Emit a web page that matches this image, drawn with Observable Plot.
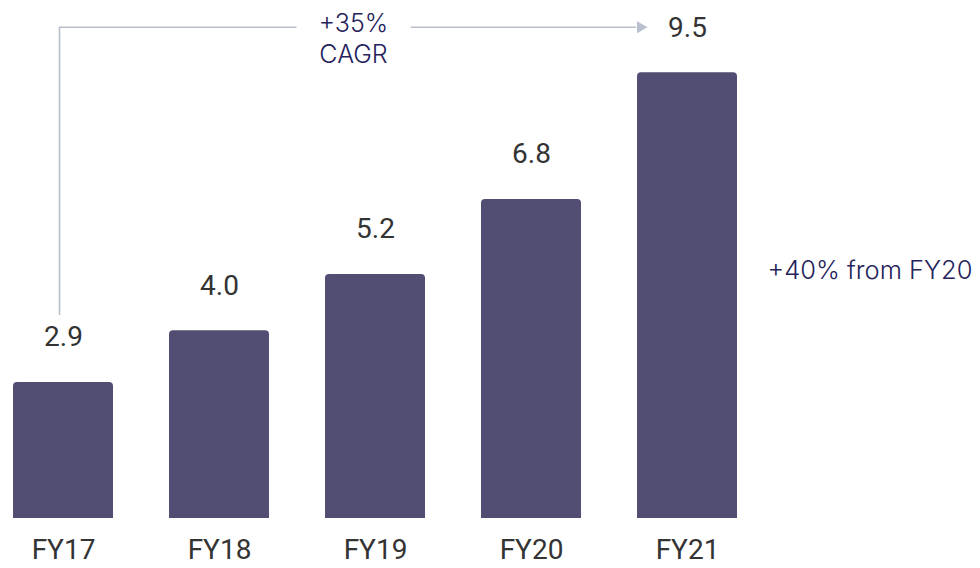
<!DOCTYPE html>
<html>
<head>
<meta charset="utf-8">
<script src="https://cdn.jsdelivr.net/npm/d3@7"></script>
<script src="https://cdn.jsdelivr.net/npm/@observablehq/plot@0.6"></script>
<style>
  html, body { margin: 0; padding: 0; background: #fff; }
</style>
</head>
<body>
<div id="chart"></div>
<script>
const categories = ["FY17", "FY18", "FY19", "FY20", "FY21"];
const values = [2.9, 4.0, 5.2, 6.8, 9.5];
const cagrLines = ["+35%", "CAGR"];
const growthLabel = "+40% from FY20";

const data = categories.map((c, i) => ({year: c, value: values[i]}));
const first = data[0];
const last = data[data.length - 1];
const connector = [{year: first.year, top: last.value, bottom: first.value, end: last.year}];

const barColor = "#524e73";
const valueColor = "#333333";
const noteColor = "#25225b";
const lineColor = "#b9bfcc";

const chart = Plot.plot({
  width: 980,
  height: 568,
  marginTop: 0,
  marginRight: 0,
  marginBottom: 50,
  marginLeft: 0,
  x: {type: "band", domain: categories, range: [12, 738], paddingInner: 0.361, paddingOuter: 0, axis: null},
  y: {domain: [0, 11.04], axis: null},
  marks: [
    Plot.barY(data, {x: "year", y: "value", fill: barColor, ry1: 4, rx1y1: 4, rx2y1: 4}),
    Plot.text(data, {x: "year", y: "value", text: d => d.value.toFixed(1), dy: -45, fontSize: 28, fontFamily: "Roboto", fill: valueColor, lineAnchor: "middle"}),
    Plot.text(data, {x: "year", y: 0, text: "year", dy: 32, fontSize: 28, fontFamily: "Roboto", fill: valueColor, lineAnchor: "middle"}),
    // CAGR connector
    Plot.ruleX(connector, {x: "year", y1: "top", y2: "bottom", dx: -4, dy: -45.5, insetBottom: 21.5, stroke: lineColor, strokeWidth: 1.6}),
    Plot.arrow(connector, {x1: "year", x2: "end", y1: "top", y2: "top", dx: -4, dy: -45.5, insetEnd: 48, headLength: 0, stroke: lineColor, strokeWidth: 1.6}),
    Plot.dot([last], {x: "year", y: "value", dx: -47, dy: -45.5, symbol: "triangle", rotate: 90, r: 4.5, fill: lineColor, stroke: "none"}),
    Plot.text([{year: "FY19", value: last.value}], {x: "year", y: "value", text: () => cagrLines[0], dx: -22, dy: -49, fontSize: 25, fontFamily: "Inter", fontWeight: 300, lineAnchor: "middle", fill: noteColor, stroke: "white", strokeWidth: 50, strokeLinejoin: "round", paintOrder: "stroke"}),
    Plot.text([{year: "FY19", value: last.value}], {x: "year", y: "value", text: () => cagrLines[1], dx: -22, dy: -17.5, fontSize: 25, fontFamily: "Inter", fontWeight: 300, lineAnchor: "middle", fill: noteColor}),
    Plot.text([last], {x: "year", y: d => d.value / 2, text: () => growthLabel, dx: 80, dy: -25, textAnchor: "start", fontSize: 25.5, fontFamily: "Inter", fontWeight: 300, lineAnchor: "middle", fill: noteColor})
  ]
});
document.getElementById("chart").append(chart);
</script>
</body>
</html>
